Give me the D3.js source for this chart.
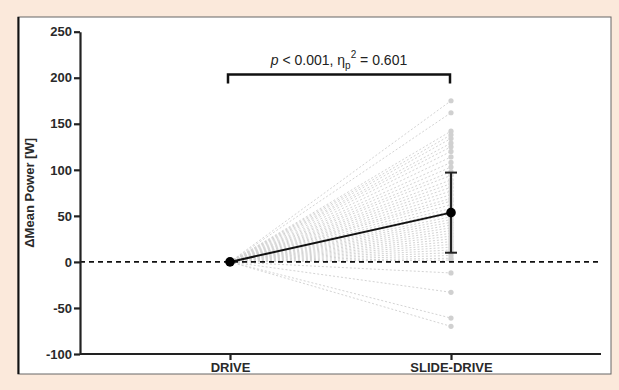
<!DOCTYPE html>
<html>
<head>
<meta charset="utf-8">
<script src="https://cdn.jsdelivr.net/npm/d3@7"></script>
<style>
  body { margin: 0; background: #fbe9db; }
  svg { display: block; font-family: "Liberation Sans", Arial, sans-serif; }
</style>
</head>
<body>
<svg id="chart" width="619" height="390"></svg>
<script>
// conditions and y ticks
var conditions = ["DRIVE", "SLIDE-DRIVE"];
var yTicks = [-100, -50, 0, 50, 100, 150, 200, 250];

// individual change in mean power at SLIDE-DRIVE (DRIVE is the 0 reference)
var slideValues = [175, 162, 142, 138, 134, 129, 125, 120, 114, 108, 103, 98, 94,
  89, 85, 81, 77, 73, 69, 66, 62, 58, 55, 52, 49, 46, 43, 40, 37, 34, 31, 28,
  25, 22, 19, 16, 13, 10, 7, 4, 2, -12, -33, -61, -70];
var driveValue = 0;

// group mean and SD error bar ends
var meanValues = [0, 53.5];
var errLow = [null, 10];
var errHigh = [null, 97];

var statText = { p: "0.001", eta: "0.601" };

var svg = d3.select("#chart");

// white panel
svg.append("rect").attr("x", 18).attr("y", 17).attr("width", 593).attr("height", 357)
  .attr("fill", "#fff").attr("stroke", "#666").attr("stroke-width", 1);
svg.append("line").attr("x1", 18.5).attr("x2", 18.5).attr("y1", 17).attr("y2", 374)
  .attr("stroke", "#111").attr("stroke-width", 2);

var y = d3.scaleLinear().domain([-100, 250]).range([354, 31.7]);
var x = d3.scalePoint().domain(conditions).range([230, 451]);

// individual lines (dotted light grey)
var g = svg.append("g");
g.selectAll("line.ind").data(slideValues).enter().append("line")
  .attr("class", "ind")
  .attr("x1", x("DRIVE")).attr("y1", y(driveValue))
  .attr("x2", x("SLIDE-DRIVE")).attr("y2", function(d){ return y(d); })
  .attr("stroke", "#d4d4d4").attr("stroke-width", 1)
  .attr("stroke-dasharray", "2,2");
g.selectAll("circle.ind").data(slideValues).enter().append("circle")
  .attr("class", "ind")
  .attr("cx", x("SLIDE-DRIVE")).attr("cy", function(d){ return y(d); })
  .attr("r", 2.6).attr("fill", "#d0d0d0");

// zero reference line
svg.append("line").attr("x1", 80).attr("x2", 601).attr("y1", y(0)).attr("y2", y(0))
  .attr("stroke", "#111").attr("stroke-width", 1.6).attr("stroke-dasharray", "5,4");

// axes
var yAxis = svg.append("g").attr("transform", "translate(80,0)")
  .call(d3.axisLeft(y).tickValues(yTicks).tickSize(6).tickSizeOuter(0)
    .tickFormat(function(d){ return String(d); }));
var xAxis = svg.append("g").attr("transform", "translate(0," + y(-100) + ")")
  .call(d3.axisBottom(x).tickSize(6).tickSizeOuter(0));
xAxis.select(".domain").attr("d", "M80,0H601");
[yAxis, xAxis].forEach(function(a){
  a.select(".domain").attr("stroke", "#222").attr("stroke-width", 2.2);
  a.selectAll(".tick line").attr("stroke", "#222").attr("stroke-width", 2.2);
  a.selectAll(".tick text").attr("fill", "#2a2a2a").style("font-size", "13px")
    .style("font-weight", "bold").style("font-family", "'Liberation Sans', Arial, sans-serif");
});
yAxis.selectAll(".tick text").attr("x", -8);
xAxis.selectAll(".tick text").attr("y", 9);

// y title
svg.append("text").attr("transform", "translate(34," + ((y(-100) + y(250)) / 2) + ") rotate(-90)")
  .attr("text-anchor", "middle").attr("fill", "#2a2a2a")
  .style("font-size", "13px").style("font-weight", "bold")
  .text("\u0394Mean Power [W]");

// mean line, error bar, points
svg.append("line")
  .attr("x1", x(conditions[0])).attr("y1", y(meanValues[0]))
  .attr("x2", x(conditions[1])).attr("y2", y(meanValues[1]))
  .attr("stroke", "#111").attr("stroke-width", 2);
var ex = x(conditions[1]);
svg.append("line").attr("x1", ex).attr("x2", ex).attr("y1", y(errLow[1])).attr("y2", y(errHigh[1]))
  .attr("stroke", "#222").attr("stroke-width", 2);
[errLow[1], errHigh[1]].forEach(function(v){
  svg.append("line").attr("x1", ex - 6).attr("x2", ex + 6).attr("y1", y(v)).attr("y2", y(v))
    .attr("stroke", "#222").attr("stroke-width", 2);
});
svg.selectAll("circle.mean").data(meanValues).enter().append("circle")
  .attr("class", "mean")
  .attr("cx", function(d, i){ return x(conditions[i]); })
  .attr("cy", function(d){ return y(d); })
  .attr("r", 4.8).attr("fill", "#000");

// significance bracket
var bx0 = x(conditions[0]) - 2, bx1 = x(conditions[1]) - 1, by = 74.5;
svg.append("path").attr("d", "M" + bx0 + "," + (by + 9) + "V" + by + "H" + bx1 + "V" + (by + 9))
  .attr("fill", "none").attr("stroke", "#111").attr("stroke-width", 2.5);

var t = svg.append("text").attr("x", (bx0 + bx1) / 2).attr("y", 65)
  .attr("text-anchor", "middle").attr("fill", "#222").style("font-size", "14px");
t.append("tspan").style("font-style", "italic").text("p");
t.append("tspan").text(" < " + statText.p + ", \u03B7");
t.append("tspan").attr("dy", 4).style("font-size", "10px").text("p");
t.append("tspan").attr("dy", -11).style("font-size", "10px").text("2");
t.append("tspan").attr("dy", 7).text(" = " + statText.eta);
</script>
</body>
</html>
